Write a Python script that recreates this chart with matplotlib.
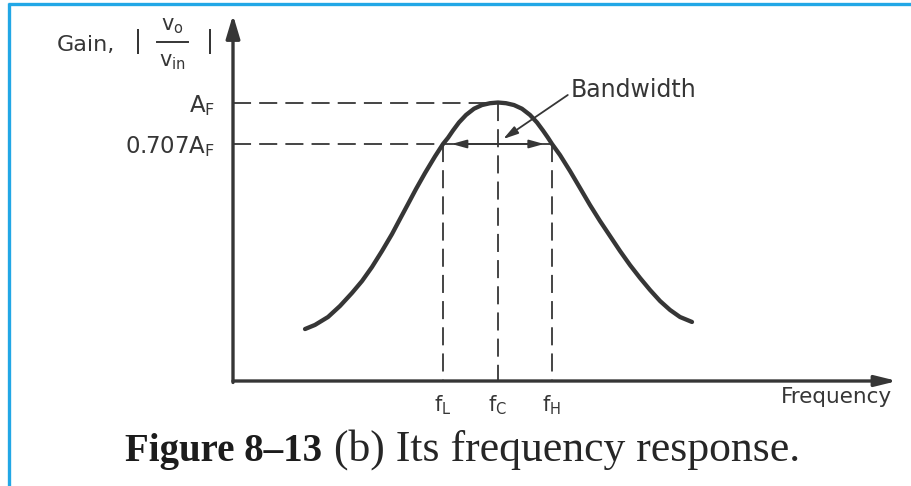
import matplotlib
matplotlib.use("Agg")
import matplotlib.pyplot as plt
from matplotlib.lines import Line2D

# ---- data (frequency in arbitrary units, gain in units of A_F) ----
freq = [10.93, 12.44, 14.42, 16.24, 18.06, 19.58, 21.09, 22.61, 24.13, 25.34,
        26.56, 27.77, 29.14, 30.65, 31.87, 32.63, 33.38, 34.29, 35.36, 36.57,
        37.78, 39.00, 40.21,
        41.43, 42.64, 43.85, 45.07, 46.13, 47.04, 47.80, 48.41, 49.62, 51.14,
        52.66, 54.17, 55.69, 57.21, 58.73, 60.24, 61.76, 63.28, 64.80, 66.31,
        67.83, 69.65]
gain = [-0.600, -0.571, -0.515, -0.437, -0.345, -0.261, -0.162, -0.049, 0.071,
        0.177, 0.283, 0.389, 0.502, 0.619, 0.707, 0.751, 0.802, 0.859, 0.912,
        0.956, 0.982, 0.995, 1.000,
        0.995, 0.982, 0.956, 0.912, 0.859, 0.802, 0.751, 0.707, 0.629, 0.516,
        0.396, 0.276, 0.163, 0.057, -0.049, -0.148, -0.239, -0.324, -0.402,
        -0.465, -0.515, -0.550]

f_L, f_C, f_H = 31.87, 40.21, 48.41
A_F = 1.0
half_power = 0.707
x_ticks = [f_L, f_C, f_H]
x_tick_labels = [r"$\mathregular{f_L}$", r"$\mathregular{f_C}$", r"$\mathregular{f_H}$"]
y_ticks = [half_power, A_F]
y_tick_labels = [r"$\mathregular{0.707A_F}$", r"$\mathregular{A_F}$"]

# ---- figure ----
W, H = 912, 486
ink = "#363636"
fig = plt.figure(figsize=(W / 100, H / 100), dpi=100)
fig.patch.set_facecolor("white")


def fx(x):
    return x / W


def fy(y):
    return 1 - y / H


ax = fig.add_axes([233 / W, (H - 381) / H, 659 / W, 366 / H])
ax.set_xlim(0, 100)
ax.set_ylim(-0.967, 1.618)
for s in ax.spines.values():
    s.set_visible(False)
ax.patch.set_alpha(0)

# axes drawn as arrows
ax.annotate("", xy=(1.008, 0), xytext=(0, 0), xycoords="axes fraction",
            arrowprops=dict(arrowstyle="-|>,head_length=1.3,head_width=0.32",
                            lw=2.4, color=ink, shrinkA=0, shrinkB=0))
ax.annotate("", xy=(0, 1), xytext=(0, -0.004), xycoords="axes fraction",
            arrowprops=dict(arrowstyle="-|>,head_length=1.4,head_width=0.42",
                            lw=2.4, color=ink, shrinkA=0, shrinkB=0))

# frequency response curve
ax.plot(freq, gain, color=ink, lw=3.1, solid_capstyle="round",
        solid_joinstyle="round", clip_on=False)

# dashed guide lines
dash = dict(color=ink, lw=1.3, linestyle=(0, (10, 4.5)), clip_on=False)
ymin = ax.get_ylim()[0]
ax.plot([0, f_C], [A_F, A_F], **dash)
ax.plot([0, f_L], [half_power, half_power], **dash)
ax.plot([f_L, f_L], [half_power, ymin], **dash)
ax.plot([f_C, f_C], [A_F, ymin], **dash)
ax.plot([f_H, f_H], [half_power, ymin], **dash)

# bandwidth double arrow
ax.plot([f_L, f_H], [half_power, half_power], color=ink, lw=1.3)
arrow_head = dict(arrowstyle="-|>,head_length=0.9,head_width=0.25",
                  lw=1.3, color=ink, shrinkA=0, shrinkB=0)
ax.annotate("", xy=(f_L + 1.3, half_power), xytext=(f_C, half_power),
            arrowprops=arrow_head)
ax.annotate("", xy=(f_H - 1.2, half_power), xytext=(f_C, half_power),
            arrowprops=arrow_head)

# "Bandwidth" callout
ax.annotate("", xy=(41.0, 0.742), xytext=(50.8, 1.053),
            arrowprops=dict(arrowstyle="-|>,head_length=0.9,head_width=0.25",
                            lw=1.3, color=ink, shrinkA=0, shrinkB=0))
ax.text(51.3, 1.088, "Bandwidth", fontsize=17, color=ink,
        ha="left", va="center", family="DejaVu Sans")

# ticks
ax.set_xticks(x_ticks, x_tick_labels)
ax.set_yticks(y_ticks, y_tick_labels)
ax.tick_params(axis="x", length=0, pad=9, labelsize=15, labelcolor=ink)
ax.tick_params(axis="y", length=0, pad=13, labelsize=16.5, labelcolor=ink)

# axis titles
ax.text(100, ymin - 0.045, "Frequency", fontsize=15.5, color=ink,
        ha="right", va="top", family="DejaVu Sans")

fig.text(fx(57), fy(51), "Gain,", fontsize=16, color=ink, ha="left",
         va="baseline")
fig.text(fx(138), fy(42), "|", fontsize=17, color=ink, ha="center",
         va="center")
fig.text(fx(210), fy(42), "|", fontsize=17, color=ink, ha="center",
         va="center")
fig.text(fx(172), fy(26), r"$\mathregular{v_o}$", fontsize=15, color=ink,
         ha="center", va="center")
fig.text(fx(172), fy(62), r"$\mathregular{v_{in}}$", fontsize=15, color=ink,
         ha="center", va="center")
fig.add_artist(Line2D([fx(157), fx(188)], [fy(42), fy(42)], lw=1.4, color=ink,
                      transform=fig.transFigure))

# caption
fig.text(fx(125), fy(461), "Figure 8–13", family="Liberation Serif",
         weight="bold", fontsize=28, color="#1c1c1c", ha="left", va="baseline")
fig.text(fx(334), fy(461), "(b) Its frequency response.",
         family="Liberation Serif", fontsize=31.5, color="#262626",
         ha="left", va="baseline")

# page frame
frame = "#22A7E6"
fig.add_artist(Line2D([fx(8), fx(912)], [fy(4), fy(4)], lw=2.4, color=frame,
                      transform=fig.transFigure, solid_capstyle="butt"))
fig.add_artist(Line2D([fx(9), fx(9)], [fy(3), fy(486)], lw=2.4, color=frame,
                      transform=fig.transFigure, solid_capstyle="butt"))

fig.savefig("out.png", dpi=100, facecolor="white")
